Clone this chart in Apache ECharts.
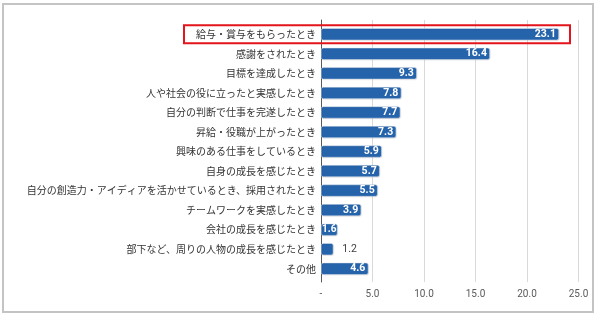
<!DOCTYPE html>
<html><head><meta charset="utf-8">
<script src="https://cdn.jsdelivr.net/npm/echarts@6/dist/echarts.min.js"></script>
<style>html,body{margin:0;padding:0;background:#fff}#c{width:600px;height:315px}</style>
</head><body><div id="c"></div>
<script>
const categories = [
  "給与・賞与をもらったとき",
  "感謝をされたとき",
  "目標を達成したとき",
  "人や社会の役に立ったと実感したとき",
  "自分の判断で仕事を完遂したとき",
  "昇給・役職が上がったとき",
  "興味のある仕事をしているとき",
  "自身の成長を感じたとき",
  "自分の創造力・アイディアを活かせているとき、採用されたとき",
  "チームワークを実感したとき",
  "会社の成長を感じたとき",
  "部下など、周りの人物の成長を感じたとき",
  "その他"
];
const values = [23.1, 16.4, 9.3, 7.8, 7.7, 7.3, 5.9, 5.7, 5.5, 3.9, 1.6, 1.2, 4.6];
const tickLabels = ["-", "5.0", "10.0", "15.0", "20.0", "25.0"];
const outsideLabelMax = 1.5;

const chart = echarts.init(document.getElementById('c'), null, {renderer: 'canvas'});
const numFont = 'Roboto, "Noto Sans", sans-serif';
const jpFont = '"Noto Sans CJK JP", sans-serif';

chart.setOption({
  animation: false,
  grid: [
    {left: 321, right: 21.5, top: 20, bottom: 33},
    {left: 321, right: 21.5, top: 24.5, bottom: 36.5}
  ],
  xAxis: [
    {gridIndex: 0, type: 'value', min: 0, max: 25, interval: 5,
     axisLine: {show: false}, axisTick: {show: false},
     splitLine: {lineStyle: {color: '#d9d9d9', width: 1}},
     axisLabel: {margin: 7, color: '#595959', fontSize: 10, fontFamily: numFont,
       formatter: v => tickLabels[Math.round(v / 5)]}},
    {gridIndex: 1, type: 'value', min: 0, max: 25, interval: 5, show: false}
  ],
  yAxis: [
    {gridIndex: 0, type: 'category', data: [''],
     axisLine: {show: true, lineStyle: {color: '#595959', width: 1}},
     axisTick: {show: false}, axisLabel: {show: false}},
    {gridIndex: 1, type: 'category', data: categories, inverse: true,
     axisLine: {show: false}, axisTick: {show: false},
     axisLabel: {margin: 5, color: '#333', fontSize: 10, fontFamily: jpFont}}
  ],
  series: [{
    type: 'bar', xAxisIndex: 1, yAxisIndex: 1,
    barWidth: 12,
    data: values.map(v => ({
      value: v,
      label: v < outsideLabelMax
        ? {position: 'right', distance: 9, color: '#404040', fontWeight: 'normal'}
        : (v < 2 ? {distance: 1, fontSize: 10} : {})
    })),
    itemStyle: {color: '#2563ab', borderRadius: 2, borderColor: '#e4ecf5', borderWidth: 0.5,
      shadowColor: 'rgba(0,0,0,0.15)', shadowBlur: 1, shadowOffsetX: 0.5, shadowOffsetY: 0.5},
    label: {show: true, position: 'insideRight', distance: 3, color: '#fff',
      fontWeight: 'bold', fontSize: 10.5, fontFamily: numFont,
      formatter: p => p.value.toFixed(1)}
  }]
});

const yc = chart.convertToPixel({yAxisIndex: 1}, categories[0]);
chart.setOption({
  graphic: [
    {type: 'rect', shape: {x: 3, y: 4, width: 590, height: 308},
     style: {fill: null, stroke: '#c4c4c4', lineWidth: 2}, silent: true},
    {type: 'rect', shape: {x: 184, y: yc - 9, width: 386, height: 18},
     style: {fill: null, stroke: '#e3141b', lineWidth: 2}, silent: true, z: 10}
  ]
});
</script></body></html>
